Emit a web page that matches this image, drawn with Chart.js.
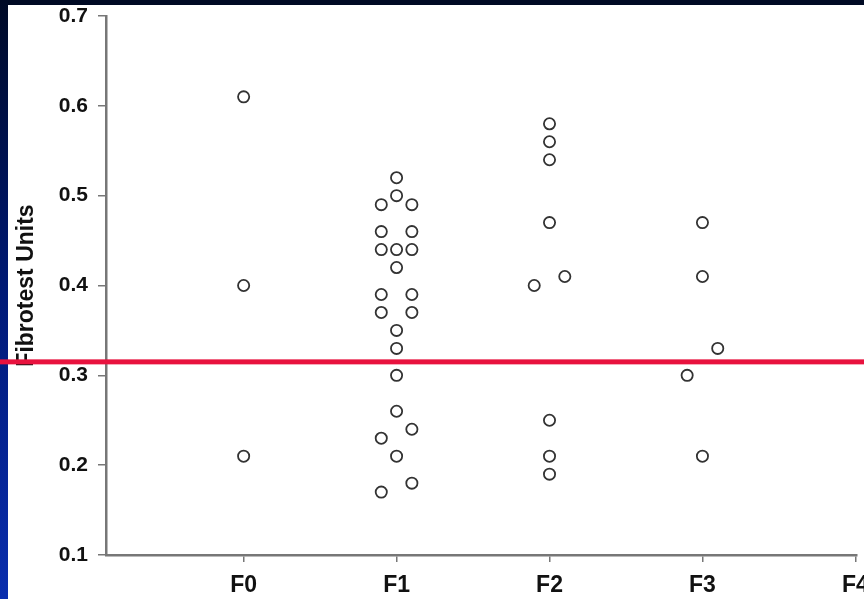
<!DOCTYPE html>
<html>
<head>
<meta charset="utf-8">
<title>Fibrotest Units by stage</title>
<script src="https://cdn.jsdelivr.net/npm/chart.js@4.4.1/dist/chart.umd.min.js"></script>
<style>
  html, body { margin: 0; padding: 0; background: #000820; }
  #wrap { width: 864px; height: 599px; position: relative; }
</style>
</head>
<body>
<div id="wrap"><canvas id="fibroChart"></canvas></div>
<script>
// fibrosis stages on the x axis
const stages = ['F0', 'F1', 'F2', 'F3', 'F4'];
const yTicks = [0.1, 0.2, 0.3, 0.4, 0.5, 0.6, 0.7];

// Fibrotest values per stage, with the small side shift used in the plot (-1 left, 0 centre, 1 right)
const f0Scores = [0.61, 0.40, 0.21];
const f0Shift  = [0, 0, 0];
const f1Scores = [0.52, 0.50, 0.49, 0.49, 0.46, 0.46, 0.44, 0.44, 0.44, 0.42, 0.39, 0.39,
                  0.37, 0.37, 0.35, 0.33, 0.30, 0.26, 0.24, 0.23, 0.21, 0.18, 0.17];
const f1Shift  = [0, 0, -1, 1, -1, 1, -1, 0, 1, 0, -1, 1,
                  -1, 1, 0, 0, 0, 0, 1, -1, 0, 1, -1];
const f2Scores = [0.58, 0.56, 0.54, 0.47, 0.41, 0.40, 0.25, 0.21, 0.19];
const f2Shift  = [0, 0, 0, 0, 1, -1, 0, 0, 0];
const f3Scores = [0.47, 0.41, 0.33, 0.30, 0.21];
const f3Shift  = [0, 0, 1, -1, 0];

// cut-off line
const cutOff = 0.315;

const groups = [
    [f0Scores, f0Shift],
    [f1Scores, f1Shift],
    [f2Scores, f2Shift],
    [f3Scores, f3Shift]
];

const points = [];
groups.forEach(([scores, shift], stageIndex) => {
    scores.forEach((v, i) => points.push({ x: stageIndex + shift[i] * 0.1, y: v }));
});

const fontFamily = "'Liberation Sans', Arial, sans-serif";

// slide frame behind the white plot
const framePlugin = {
    id: 'frame',
    beforeDraw(chart) {
        const ctx = chart.ctx;
        const w = chart.width, h = chart.height;
        ctx.save();
        ctx.fillStyle = '#000a24';
        ctx.fillRect(0, 0, w, h);
        const grad = ctx.createLinearGradient(0, 0, 0, h);
        grad.addColorStop(0, '#000a26');
        grad.addColorStop(0.5, '#001a78');
        grad.addColorStop(1, '#0a2eae');
        ctx.fillStyle = grad;
        ctx.fillRect(0, 0, 8, h);
        ctx.fillStyle = '#ffffff';
        ctx.fillRect(8, 5, w - 8, h - 5);
        ctx.restore();
    }
};

// red threshold line across the whole picture
const cutOffPlugin = {
    id: 'cutOff',
    afterDatasetsDraw(chart) {
        const ctx = chart.ctx;
        const y = chart.scales.y.getPixelForValue(cutOff);
        ctx.save();
        ctx.fillStyle = '#e8123e';
        ctx.fillRect(0, y - 2.5, chart.width, 5);
        ctx.restore();
    }
};

new Chart(document.getElementById('fibroChart').getContext('2d'), {
    type: 'scatter',
    data: {
        datasets: [{
            data: points,
            pointRadius: 5.6,
            pointBorderWidth: 1.8,
            pointBorderColor: '#333333',
            pointBackgroundColor: '#ffffff',
            pointHoverRadius: 5.6
        }]
    },
    options: {
        responsive: true,
        maintainAspectRatio: false,
        animation: false,
        layout: { padding: { left: 8, top: 16, right: 0, bottom: 0 } },
        plugins: {
            legend: { display: false },
            tooltip: { enabled: false }
        },
        scales: {
            x: {
                type: 'linear',
                min: -0.9,
                max: 4.008,
                afterBuildTicks: (scale) => {
                    scale.ticks = stages.map((s, i) => ({ value: i }));
                },
                afterFit: (scale) => {
                    scale.height = 44;
                    scale.paddingLeft = 0;
                    scale.paddingRight = 0;
                },
                ticks: {
                    callback: (v) => stages[v],
                    color: '#111111',
                    padding: 10,
                    maxRotation: 0,
                    autoSkip: false,
                    font: { family: fontFamily, size: 23, weight: 'bold' }
                },
                grid: {
                    drawOnChartArea: false,
                    tickLength: 7,
                    color: '#777777',
                    lineWidth: 1.5
                },
                border: { display: true, color: '#777777', width: 2.5 }
            },
            y: {
                min: 0.1,
                max: 0.7,
                afterBuildTicks: (scale) => {
                    scale.ticks = yTicks.map(v => ({ value: v }));
                },
                afterFit: (scale) => {
                    scale.width = 98;
                    scale.paddingTop = 0;
                    scale.paddingBottom = 0;
                },
                ticks: {
                    callback: (v) => v.toFixed(1),
                    color: '#111111',
                    padding: 10,
                    font: { family: fontFamily, size: 21, weight: 'bold' }
                },
                grid: {
                    drawOnChartArea: false,
                    tickLength: 8,
                    color: '#777777',
                    lineWidth: 1.5
                },
                border: { display: true, color: '#777777', width: 2.5 },
                title: {
                    display: true,
                    text: 'Fibrotest Units',
                    color: '#111111',
                    padding: { top: 5, bottom: 4 },
                    font: { family: fontFamily, size: 23, weight: 'bold' }
                }
            }
        }
    },
    plugins: [framePlugin, cutOffPlugin]
});
</script>
</body>
</html>
